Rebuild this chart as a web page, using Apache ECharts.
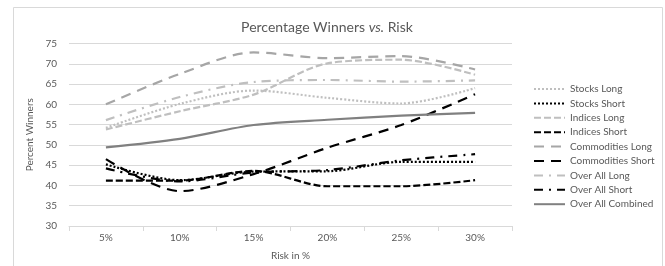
<!DOCTYPE html>
<html>
<head>
<meta charset="utf-8">
<script src="https://cdn.jsdelivr.net/npm/echarts@6/dist/echarts.min.js"></script>
<style>
  html, body { margin: 0; padding: 0; background: #fff; }
  #chart { width: 665px; height: 266px; }
</style>
</head>
<body>
<div id="chart"></div>
<script>
const risk = ["5%", "10%", "15%", "20%", "25%", "30%"];

const stocksLong = [54.2, 60.1, 63.4, 61.6, 60.2, 64.0];
const stocksShort = [45.2, 41.3, 43.4, 43.5, 45.8, 45.8];
const indicesLong = [53.8, 58.3, 62.4, 70.1, 71.0, 67.3];
const indicesShort = [41.2, 41.2, 43.6, 39.8, 39.8, 41.3];
const commoditiesLong = [60.0, 67.5, 72.8, 71.4, 71.9, 68.6];
const commoditiesShort = [46.5, 38.6, 42.8, 49.3, 54.9, 62.5];
const overAllLong = [56.1, 61.8, 65.5, 66.0, 65.6, 65.9];
const overAllShort = [44.2, 41.0, 43.2, 43.8, 46.2, 47.7];
const overAllCombined = [49.4, 51.5, 54.9, 56.2, 57.2, 57.9];

const yTicks = { min: 30, max: 75, step: 5 };

const font = "Lato, 'Open Sans', sans-serif";
const labelGray = "#595959";

function line(name, data, color, dash) {
  return {
    name,
    type: "line",
    data,
    smooth: 0.3,
    symbol: "none",
    lineStyle: { color, width: 2.2, type: dash, cap: "butt" },
    itemStyle: { color },
  };
}

const chart = echarts.init(document.getElementById("chart"));
chart.setOption({
  animation: false,
  backgroundColor: "#fff",
  textStyle: { fontFamily: font },
  graphic: [{
    type: "rect",
    shape: { x: 13.5, y: 7.5, width: 649, height: 270 },
    style: { fill: "none", stroke: "#d9d9d9", lineWidth: 1 },
    silent: true,
  }],
  title: {
    text: "{a|Percentage Winners }{b|vs.}{a| Risk}",
    left: 322,
    textAlign: "center",
    top: 15,
    textStyle: {
      fontWeight: "normal",
      rich: {
        a: { fontFamily: font, fontSize: 14, fontWeight: "normal", color: labelGray },
        b: { fontFamily: font, fontSize: 14, fontWeight: "normal", color: labelGray, fontStyle: "italic" },
      },
    },
  },
  grid: { left: 69, right: 153, top: 43.5, bottom: 39 },
  xAxis: {
    type: "category",
    data: risk,
    name: "Risk in %",
    nameLocation: "middle",
    nameGap: 25,
    nameTextStyle: { color: labelGray, fontSize: 10, fontFamily: font },
    axisLine: { lineStyle: { color: "#d9d9d9" } },
    axisTick: { show: true, length: 5, lineStyle: { color: "#d9d9d9" } },
    axisLabel: { color: labelGray, fontSize: 10, margin: 7 },
  },
  yAxis: {
    type: "value",
    min: yTicks.min,
    max: yTicks.max,
    interval: yTicks.step,
    name: "Percent Winners",
    nameLocation: "middle",
    nameGap: 31,
    nameTextStyle: { color: labelGray, fontSize: 10, fontFamily: font },
    axisLine: { show: false },
    axisTick: { show: false },
    axisLabel: { color: labelGray, fontSize: 10, margin: 12 },
    splitLine: { lineStyle: { color: "#d9d9d9" } },
  },
  legend: {
    orient: "vertical",
    left: 528,
    top: 79,
    itemWidth: 31,
    itemHeight: 12,
    itemGap: 4.4,
    itemStyle: { opacity: 0 },
    textStyle: { color: labelGray, fontSize: 10, fontFamily: font },
  },
  series: [
    line("Stocks Long", stocksLong, "#bfbfbf", [2, 2]),
    line("Stocks Short", stocksShort, "#000000", [2, 2]),
    line("Indices Long", indicesLong, "#bfbfbf", [7, 3]),
    line("Indices Short", indicesShort, "#000000", [7, 3]),
    line("Commodities Long", commoditiesLong, "#a6a6a6", [10, 7]),
    line("Commodities Short", commoditiesShort, "#000000", [10, 7]),
    line("Over All Long", overAllLong, "#bfbfbf", [9, 6, 2, 6]),
    line("Over All Short", overAllShort, "#000000", [9, 6, 2, 6]),
    line("Over All Combined", overAllCombined, "#808080", "solid"),
  ],
});
</script>
</body>
</html>
